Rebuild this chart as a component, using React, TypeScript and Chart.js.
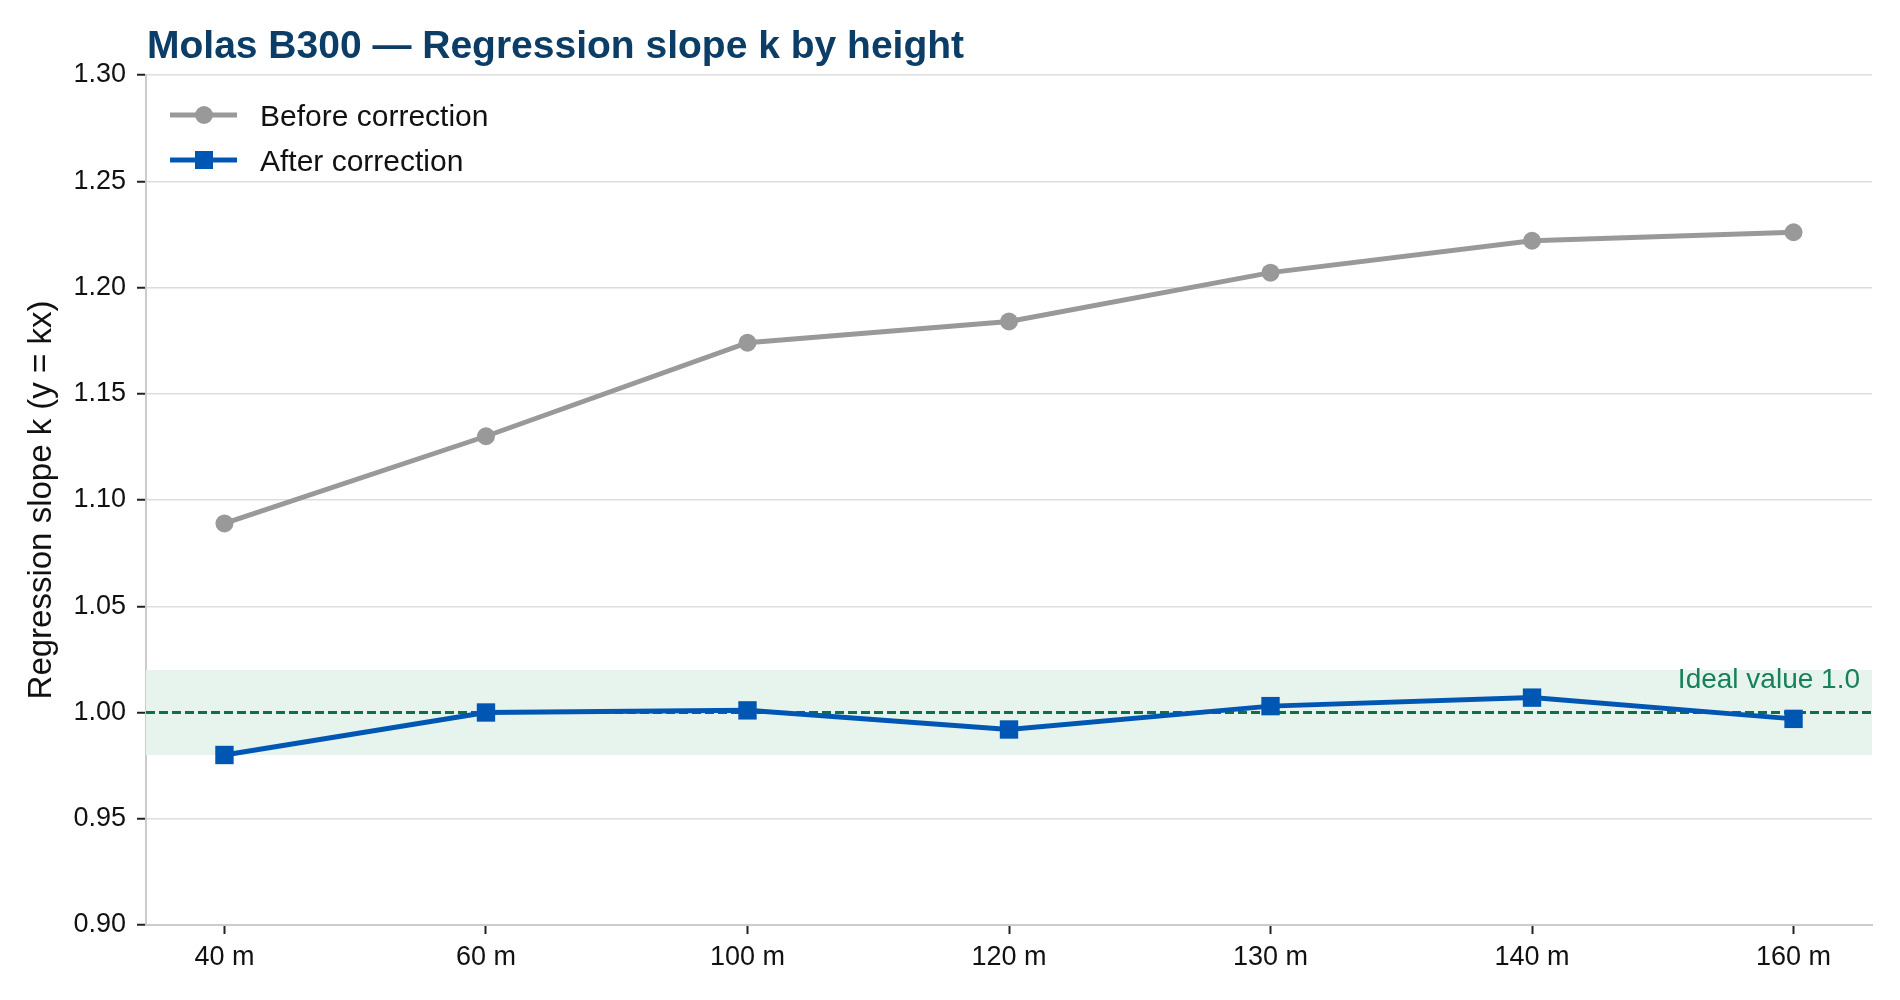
import { useEffect, useRef } from 'react'
import { Chart, registerables, type ChartConfiguration, type Plugin } from 'chart.js'

Chart.register(...registerables)

const heights = ['40 m', '60 m', '100 m', '120 m', '130 m', '140 m', '160 m']
const beforeCorrection = [1.089, 1.130, 1.174, 1.184, 1.207, 1.222, 1.226]
const afterCorrection = [0.980, 1.000, 1.001, 0.992, 1.003, 1.007, 0.997]
const yTicks = [0.90, 0.95, 1.00, 1.05, 1.10, 1.15, 1.20, 1.25, 1.30]
const idealValue = 1.0
const idealBand = [0.98, 1.02]

const FONT = '"Liberation Sans", Arial, sans-serif'
const GRAY = '#999999'
const BLUE = '#0057b3'

// shaded tolerance band + dashed ideal line, drawn under the series
const idealPlugin: Plugin<'line'> = {
  id: 'ideal',
  beforeDatasetsDraw(chart) {
    const { ctx, chartArea } = chart
    const y = chart.scales.y
    const top = y.getPixelForValue(idealBand[1])
    const bottom = y.getPixelForValue(idealBand[0])
    const mid = y.getPixelForValue(idealValue)
    ctx.save()
    ctx.fillStyle = '#e7f4ee'
    ctx.fillRect(chartArea.left, top, chartArea.right - chartArea.left, bottom - top)
    ctx.strokeStyle = '#0f6f49'
    ctx.lineWidth = 3
    ctx.setLineDash([9, 4])
    ctx.beginPath()
    ctx.moveTo(chartArea.left, mid)
    ctx.lineTo(chartArea.right, mid)
    ctx.stroke()
    ctx.setLineDash([])
    ctx.fillStyle = '#16805a'
    ctx.font = `28px ${FONT}`
    ctx.textAlign = 'right'
    ctx.textBaseline = 'alphabetic'
    ctx.fillText(`Ideal value ${idealValue.toFixed(1)}`, chartArea.right - 12, mid - 25)
    ctx.restore()
  },
}

// matplotlib-style title and in-axes legend
const decorPlugin: Plugin<'line'> = {
  id: 'decor',
  afterDraw(chart) {
    const { ctx, chartArea } = chart
    ctx.save()
    ctx.fillStyle = '#0b3d66'
    ctx.font = `bold 39px ${FONT}`
    ctx.textAlign = 'left'
    ctx.textBaseline = 'alphabetic'
    ctx.fillText('Molas B300 — Regression slope k by height', chartArea.left + 1, 58)

    chart.data.datasets.forEach((ds, i) => {
      const y = chartArea.top + 40 + i * 45
      const color = ds.borderColor as string
      ctx.strokeStyle = color
      ctx.fillStyle = color
      ctx.lineWidth = 5
      ctx.beginPath()
      ctx.moveTo(170, y)
      ctx.lineTo(237, y)
      ctx.stroke()
      if (ds.pointStyle === 'rect') {
        ctx.fillRect(204 - 9, y - 9, 18, 18)
      } else {
        ctx.beginPath()
        ctx.arc(204, y, 9, 0, Math.PI * 2)
        ctx.fill()
      }
      ctx.fillStyle = '#111111'
      ctx.font = `30px ${FONT}`
      ctx.fillText(ds.label ?? '', 260, y + 11)
    })
    ctx.restore()
  },
}

export default function App() {
  const chartRef = useRef<HTMLCanvasElement>(null)
  const chartInstance = useRef<Chart<'line'> | null>(null)

  useEffect(() => {
    document.body.style.margin = '0'
    if (!chartRef.current) return
    chartInstance.current?.destroy()

    const ctx = chartRef.current.getContext('2d')
    if (!ctx) return

    Chart.defaults.font.family = FONT

    const config: ChartConfiguration<'line'> = {
      type: 'line',
      data: {
        datasets: [
          {
            label: 'Before correction',
            data: beforeCorrection.map((v, i) => ({ x: i, y: v })),
            borderColor: GRAY,
            backgroundColor: GRAY,
            borderWidth: 5,
            pointStyle: 'circle',
            pointRadius: 9,
            pointBorderWidth: 0,
            tension: 0,
          },
          {
            label: 'After correction',
            data: afterCorrection.map((v, i) => ({ x: i, y: v })),
            borderColor: BLUE,
            backgroundColor: BLUE,
            borderWidth: 5,
            pointStyle: 'rect',
            pointRadius: 13,
            pointBorderWidth: 0,
            tension: 0,
          },
        ],
      },
      options: {
        responsive: false,
        devicePixelRatio: 1,
        animation: false,
        layout: { padding: { top: 75, right: 28, bottom: 0, left: 22 } },
        scales: {
          x: {
            type: 'linear',
            min: -0.3,
            max: heights.length - 1 + 0.3,
            afterBuildTicks: (scale) => {
              scale.ticks = heights.map((_, i) => ({ value: i }))
            },
            afterFit: (scale) => {
              scale.height = 75
            },
            grid: {
              drawOnChartArea: false,
              tickColor: '#222222',
              tickLength: 9,
              tickWidth: 2,
            },
            border: { color: '#cccccc', width: 2 },
            ticks: {
              color: '#111111',
              font: { size: 27 },
              padding: 7,
              maxRotation: 0,
              callback: (value) => heights[value as number] ?? '',
            },
          },
          y: {
            min: yTicks[0],
            max: yTicks[yTicks.length - 1],
            afterBuildTicks: (scale) => {
              scale.ticks = yTicks.map((v) => ({ value: v }))
            },
            afterFit: (scale) => {
              scale.width = 124
            },
            grid: {
              color: '#dddddd',
              lineWidth: 1.5,
              tickColor: '#222222',
              tickLength: 9,
              tickWidth: 2,
            },
            border: { color: '#cccccc', width: 2 },
            ticks: {
              color: '#111111',
              font: { size: 27 },
              padding: 11,
              callback: (value) => (value as number).toFixed(2),
            },
            title: {
              display: true,
              text: 'Regression slope k (y = kx)',
              color: '#111111',
              font: { size: 33 },
              padding: 0,
            },
          },
        },
        plugins: {
          legend: { display: false },
          title: { display: false },
          tooltip: { enabled: false },
        },
      },
      plugins: [idealPlugin, decorPlugin],
    }

    chartInstance.current = new Chart(ctx, config)

    return () => {
      chartInstance.current?.destroy()
    }
  }, [])

  return <canvas ref={chartRef} width={1900} height={1000} />
}
